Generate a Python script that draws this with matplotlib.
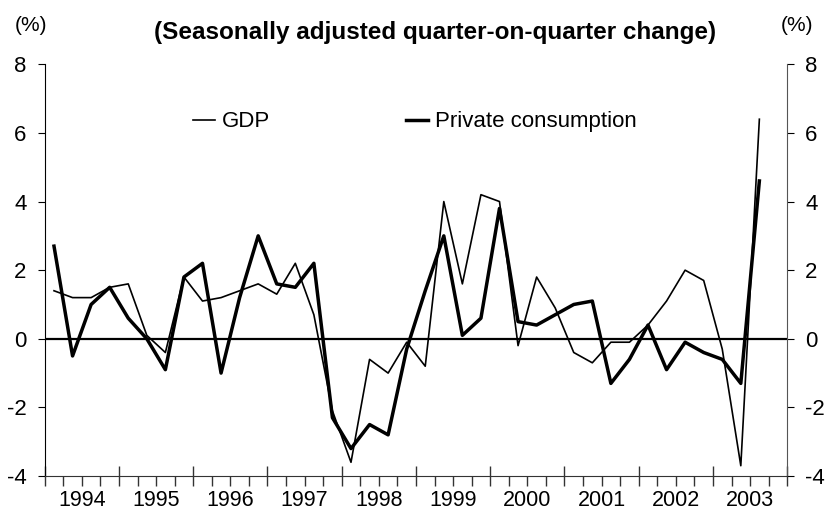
import numpy as np
import matplotlib
matplotlib.use("Agg")
import matplotlib.pyplot as plt
from matplotlib.ticker import FixedLocator, NullFormatter

# quarterly data, 1994 Q1 - 2003 Q3
years = [str(y) for y in range(1994, 2004)]
gdp = [1.4, 1.2, 1.2, 1.5, 1.6, 0.1, -0.4, 1.8, 1.1, 1.2, 1.4, 1.6, 1.3, 2.2,
       0.7, -2.1, -3.6, -0.6, -1.0, -0.1, -0.8, 4.0, 1.6, 4.2, 4.0, -0.2, 1.8,
       0.9, -0.4, -0.7, -0.1, -0.1, 0.4, 1.1, 2.0, 1.7, -0.3, -3.7, 6.4]
consumption = [2.7, -0.5, 1.0, 1.5, 0.6, 0.0, -0.9, 1.8, 2.2, -1.0, 1.2, 3.0,
               1.6, 1.5, 2.2, -2.3, -3.2, -2.5, -2.8, -0.3, 1.4, 3.0, 0.1, 0.6,
               3.8, 0.5, 0.4, 0.7, 1.0, 1.1, -1.3, -0.6, 0.4, -0.9, -0.1, -0.4,
               -0.6, -1.3, 4.6]
yticks = [-4, -2, 0, 2, 4, 6, 8]

plt.rcParams["font.family"] = ["Liberation Sans", "DejaVu Sans"]

fig = plt.figure(figsize=(8.25, 5.25), dpi=100)
ax = fig.add_axes([0.0542, 0.0933, 0.9000, 0.7842])

x = np.arange(len(gdp)) + 0.5
ax.plot(x, gdp, color="black", lw=1.2, label="GDP")
ax.plot(x, consumption, color="black", lw=2.5, label="Private consumption")
ax.axhline(0, color="black", lw=1.6)

nq = len(years) * 4
ax.set_xlim(0, nq)
ax.set_ylim(-4, 8)

ax.spines["top"].set_visible(False)
ax.spines["right"].set_color("#555555")
ax.spines["bottom"].set_color("#333333")

ax.xaxis.set_major_locator(FixedLocator(np.arange(0, nq + 1, 4)))
ax.xaxis.set_minor_locator(FixedLocator([q for q in range(nq + 1) if q % 4]))
ax.xaxis.set_major_formatter(NullFormatter())
ax.tick_params(axis="x", which="major", direction="inout", length=14, width=1, color="#333333")
ax.tick_params(axis="x", which="minor", direction="out", length=7, width=1, color="#333333")
for i, yr in enumerate(years):
    ax.text(i * 4 + 2, -4.7, yr, ha="center", va="center", fontsize=15.5)

ax.set_yticks(yticks)
ax.set_yticklabels([str(v) for v in yticks], fontsize=16)
ax.tick_params(axis="y", direction="out", length=5, pad=8, right=True, labelright=True)

ax.legend(loc="center left", bbox_to_anchor=(0.2, 0.86), ncol=2, frameon=False,
          fontsize=16, handlelength=1.0, handletextpad=0.3, columnspacing=6.1,
          borderpad=0, borderaxespad=0)

fig.text(0.527, 0.938, "(Seasonally adjusted quarter-on-quarter change)",
         ha="center", va="center", fontsize=17.5, fontweight="bold")
fig.text(0.037, 0.952, "(%)", ha="center", va="center", fontsize=15)
fig.text(0.966, 0.952, "(%)", ha="center", va="center", fontsize=15)

fig.savefig("out.png", dpi=100)
